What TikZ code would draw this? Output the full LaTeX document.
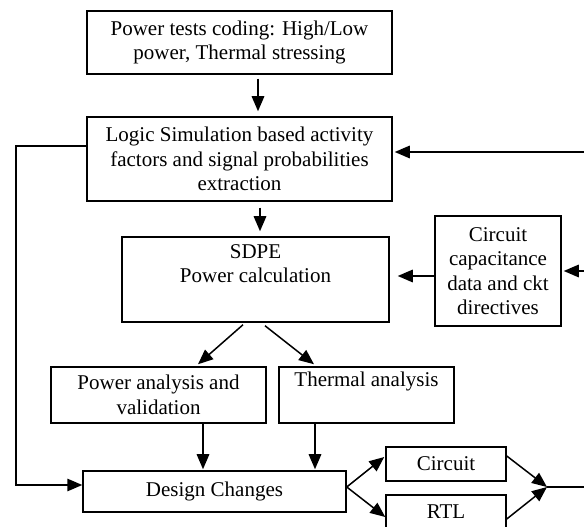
\documentclass[tikz,border=0pt]{standalone}
\usepackage{fontspec}
\setmainfont{Liberation Serif}
\usetikzlibrary{arrows.meta}
\begin{document}
\begin{tikzpicture}[x=1pt,y=1pt,
 box/.style={draw, line width=1.5pt, inner sep=0pt, align=center, font=\fontsize{21}{24.5}\selectfont},
 arr/.style={line width=1.5pt, -{Triangle[length=15pt,width=12.5pt]}},
 ln/.style={line width=1.5pt}]
\clip (0,0) rectangle (584,527);
\node[box, minimum width=305pt, minimum height=63pt] (top) at (239.5,484.5) {Power tests coding: High/Low\\power, Thermal stressing};
\node[box, minimum width=305pt, minimum height=84pt] (logic) at (239.5,368) {Logic Simulation based activity\\factors and signal probabilities\\extraction};
\node[box, minimum width=267pt, minimum height=85pt] (sdpe) at (255.5,247.5) {SDPE\\Power calculation\\\strut};
\node[box, minimum width=126pt, minimum height=110pt] (cap) at (498,256) {Circuit\\capacitance\\data and ckt\\directives};
\node[box, minimum width=215pt, minimum height=56pt] (pa) at (158.5,132) {Power analysis and\\validation};
\node[box, minimum width=175pt, minimum height=56pt] (th) at (366.5,132) {Thermal analysis\\\strut};
\node[box, minimum width=263pt, minimum height=41pt] (dc) at (214.5,35.5) {Design Changes};
\node[box, minimum width=120pt, minimum height=34pt] (circ) at (446,63) {Circuit};
\node[box, minimum width=120pt, minimum height=34pt] (rtl) at (446,15) {RTL};
\coordinate (rin1) at (584,375);
\coordinate (cin) at (584,256);
\coordinate (lc1) at (16,381);
\coordinate (lc2) at (16,42);
\coordinate (merge) at (547,40);
\coordinate (mout) at (584,40);
\draw[arr] ([xshift=18.5pt,yshift=-4pt]top.south) -- ([xshift=18.5pt,yshift=5pt]logic.north);
\draw[arr] ([xshift=20.5pt,yshift=-6pt]logic.south) -- ([xshift=4.5pt,yshift=5pt]sdpe.north);
\draw[arr,shorten >=2pt] (rin1) -- (logic.east |- rin1);
\draw[arr] (logic.west |- lc1) -- (lc1) -- (lc2) -- (dc.west |- lc2);
\draw[arr,shorten >=2pt] (cin) -- (cap.east);
\draw[arr,shorten >=8pt] ([yshift=-5pt]cap.west) -- ([yshift=3.5pt]sdpe.east);
\draw[arr] ([xshift=-12.5pt,yshift=-2pt]sdpe.south) -- ([xshift=39.5pt,yshift=2pt]pa.north);
\draw[arr] ([xshift=9.5pt,yshift=-3pt]sdpe.south) -- ([xshift=-52.5pt,yshift=2pt]th.north);
\draw[arr] ([xshift=44.5pt]pa.south) -- ([xshift=-11.5pt,yshift=1pt]dc.north);
\draw[arr] ([xshift=-51.5pt]th.south) -- ([xshift=100.5pt,yshift=1pt]dc.north);
\draw[arr] ([yshift=4.5pt]dc.east) -- ([xshift=-1pt,yshift=7pt]circ.west);
\draw[arr] ([yshift=4.5pt]dc.east) -- ([yshift=-5pt]rtl.west);
\draw[arr] ([yshift=8pt]circ.east) -- (merge);
\draw[arr] ([yshift=-7pt]rtl.east) -- (merge);
\draw[ln] (merge) -- (mout);
\end{tikzpicture}
\end{document}
